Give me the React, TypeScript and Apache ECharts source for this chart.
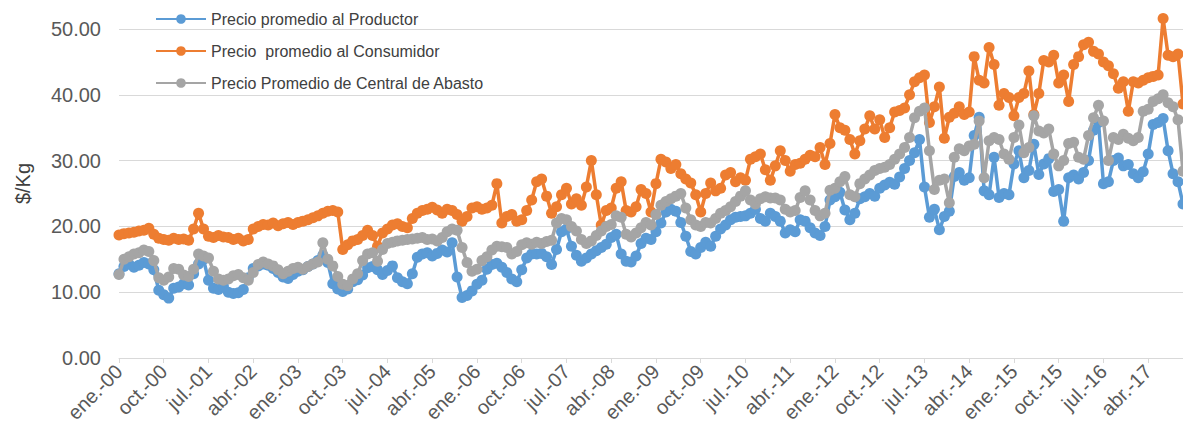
import React, { useEffect, useRef } from "react";
import * as echarts from "echarts";

// Monthly price series, January 2000 through November 2017 ($/Kg)
const MONTHS = ["ene.", "feb.", "mar.", "abr.", "may.", "jun.", "jul.", "ago.", "sep.", "oct.", "nov.", "dic."];
const YEARS = ["00", "01", "02", "03", "04", "05", "06", "07", "08", "09", "10", "11", "12", "13", "14", "15", "16", "17"];
const MONTHS_IN_LAST_YEAR = 11;

const categories: string[] = [];
YEARS.forEach((yy, k) => {
  const n = k === YEARS.length - 1 ? MONTHS_IN_LAST_YEAR : 12;
  for (let m = 0; m < n; m++) categories.push(`${MONTHS[m]}-${yy}`);
});

const SERIES_NAMES = [
  "Precio promedio al Productor",
  "Precio  promedio al Consumidor",
  "Precio Promedio de Central de Abasto",
];

const productor = [
  12.8, 13.9, 14.3, 13.8, 14.1, 14.5, 14.3, 13.4, 10.3, 9.6, 9.1, 10.6,
  10.8, 11.3, 11.1, 12.8, 14.3, 15.0, 11.8, 10.6, 10.4, 10.9, 10.0, 9.8,
  9.9, 10.4, 12.2, 13.6, 14.0, 14.3, 14.1, 13.6, 13.0, 12.3, 12.1, 12.7,
  13.2, 13.4, 13.9, 14.3, 14.8, 15.6, 14.5, 11.3, 10.5, 10.1, 10.5, 11.6,
  11.9, 12.6, 13.7, 13.9, 13.4, 12.7, 13.3, 14.0, 12.2, 11.6, 11.3, 12.8,
  15.3, 15.8, 16.0, 15.5, 15.9, 16.4, 16.1, 17.5, 12.3, 9.2, 9.5, 10.2,
  11.2, 11.8, 13.5, 14.2, 14.4, 13.8, 13.0, 12.0, 11.6, 13.4, 15.2, 15.8,
  15.8, 15.9, 15.4, 14.2, 16.5, 19.2, 19.6, 17.0, 15.6, 14.7, 15.2, 15.8,
  16.3, 16.8, 17.3, 18.3, 18.8, 15.8, 14.7, 14.6, 15.5, 17.4, 18.2, 18.0,
  19.2, 20.5, 22.2, 22.6, 22.3, 20.6, 18.5, 16.2, 15.8, 16.8, 17.6, 17.0,
  18.5, 19.6, 20.2, 21.0, 21.4, 21.5, 21.6, 22.0, 22.6, 21.2, 20.8, 22.0,
  21.5, 20.8, 19.0, 19.5, 19.2, 21.0, 20.8, 19.8, 19.0, 18.6, 20.0, 24.0,
  24.5, 25.2, 22.5, 21.0, 22.0, 24.2, 24.5, 25.0, 24.6, 25.8, 26.3, 26.7,
  26.4, 27.5, 28.8, 30.0, 31.2, 33.2, 26.0, 21.4, 22.6, 19.5, 21.5, 22.3,
  27.6, 28.2, 27.0, 27.4, 33.8, 36.6, 25.4, 24.8, 30.5, 24.4, 25.0, 24.8,
  29.5, 31.5, 27.4, 28.5, 32.5, 27.9, 29.5, 30.3, 25.3, 25.6, 20.8, 27.4,
  27.8, 27.2, 28.2, 30.0, 34.6, 35.8, 26.5, 26.8, 30.0, 30.4, 29.2, 29.4,
  28.0, 27.4, 28.3, 31.0, 35.5, 35.8, 36.4, 31.5, 28.0, 26.8, 23.4,
];

const consumidor = [
  18.7, 18.9, 19.0, 19.1, 19.3, 19.4, 19.7, 18.8, 18.2, 18.0, 17.9, 18.2,
  18.0, 18.1, 17.9, 19.6, 22.0, 19.6, 18.5, 18.3, 18.6, 18.4, 18.3, 18.0,
  18.2, 17.8, 18.0, 19.6, 20.0, 20.3, 20.2, 20.5, 20.1, 20.4, 20.6, 20.3,
  20.6, 20.8, 21.0, 21.3, 21.6, 22.0, 22.3, 22.4, 22.2, 16.5, 17.2, 17.8,
  18.0, 18.6, 19.4, 18.6, 17.0, 19.0, 19.6, 20.2, 20.4, 20.0, 19.8, 21.2,
  22.0, 22.4, 22.6, 22.9, 22.5, 22.0, 22.6, 22.4, 21.8, 20.8, 21.5, 22.8,
  23.0, 22.6, 22.8, 23.2, 26.5, 20.5, 21.5, 21.8, 20.8, 21.0, 22.4, 24.0,
  26.8, 27.2, 24.6, 22.0, 23.0, 24.8, 25.8, 23.4, 24.2, 23.2, 26.0, 30.0,
  24.8, 20.2, 22.4, 22.8, 25.8, 26.8, 22.4, 22.2, 23.0, 25.6, 25.0, 22.2,
  26.5, 30.2, 29.8, 28.8, 29.4, 28.0, 27.2, 26.6, 24.8, 22.2, 25.0, 26.6,
  25.4, 25.8, 27.8, 28.2, 26.8, 27.4, 27.0, 30.2, 30.6, 31.0, 28.6, 27.0,
  29.2, 31.5, 30.0, 28.4, 29.4, 29.6, 30.2, 30.8, 30.6, 32.0, 29.4, 32.6,
  37.0, 35.0, 34.6, 33.2, 31.0, 33.0, 34.8, 36.8, 34.8, 36.2, 33.5, 35.0,
  37.4, 37.6, 38.0, 40.0, 42.0, 42.6, 43.0, 35.8, 38.2, 41.2, 33.4, 36.6,
  37.2, 38.2, 37.0, 37.4, 45.8, 42.2, 41.8, 47.2, 44.6, 38.4, 40.2, 39.6,
  36.8, 39.6, 40.2, 43.6, 37.0, 40.2, 45.2, 45.0, 46.0, 41.8, 43.0, 39.0,
  44.6, 45.8, 47.6, 48.0, 46.6, 46.2, 45.0, 44.4, 43.2, 41.0, 42.0, 37.5,
  42.0, 41.8, 42.2, 42.6, 42.8, 43.0, 51.6, 46.0, 45.8, 46.2, 38.6,
];

const centralAbasto = [
  12.7, 15.0, 15.4, 15.8, 16.0, 16.4, 16.2, 14.8, 12.2, 11.8, 12.3, 13.6,
  13.5, 12.6, 12.4, 13.5, 15.8, 15.5, 15.2, 13.2, 12.0, 11.8, 12.0, 12.5,
  12.7, 12.2, 11.8, 13.0, 14.2, 14.6, 14.3, 14.0, 13.4, 12.8, 13.2, 13.6,
  13.8, 13.5, 13.9, 14.3, 14.6, 17.5, 15.0, 14.0, 12.4, 11.2, 11.0, 12.0,
  12.8, 14.8, 15.8, 16.0, 14.7, 16.5, 17.4, 17.6, 17.8, 17.9, 18.0, 18.1,
  18.2, 18.3, 18.0, 18.1, 17.8, 18.3, 19.2, 19.6, 19.4, 16.8, 14.5, 13.2,
  13.5, 14.8, 15.4, 16.4, 17.0, 16.9, 16.8, 15.8, 16.2, 17.2, 17.5, 17.3,
  17.6, 17.4, 17.7, 17.9, 20.5, 21.2, 21.0, 20.0, 19.3, 18.0, 17.4, 17.8,
  18.6, 19.3, 20.0, 20.3, 21.6, 21.4, 18.8, 18.4, 19.0, 19.8, 20.6, 20.2,
  21.8, 23.2, 23.8, 24.2, 24.6, 25.0, 22.8, 21.0, 20.2, 20.0, 20.6, 20.5,
  21.2, 22.0, 22.4, 23.0, 23.8, 24.6, 25.4, 24.0, 23.4, 24.2, 24.5, 24.3,
  24.3, 24.0, 22.6, 22.2, 22.4, 24.4, 25.4, 24.0, 22.4, 21.6, 22.0, 25.5,
  25.8, 26.8, 27.6, 24.8, 24.5, 26.5, 27.2, 27.8, 28.5, 28.8, 29.0, 29.4,
  30.2, 31.0, 32.0, 33.5, 36.5, 37.5, 38.0, 31.5, 25.6, 27.0, 27.2, 23.6,
  30.5, 31.8, 31.5, 32.2, 32.5, 36.0, 27.4, 33.0, 33.5, 33.2, 31.0, 30.2,
  33.5, 35.4, 31.2, 32.0, 36.8, 34.5, 34.2, 34.8, 31.0, 29.2, 30.0, 32.6,
  32.8, 30.5, 30.2, 33.8, 36.5, 38.4, 36.0, 30.0, 33.5, 33.2, 34.0, 33.4,
  33.0, 33.5, 37.5, 37.8, 39.0, 39.4, 40.0, 38.8, 38.2, 36.2, 28.4,
];

const COLORS = ["#5B9BD5", "#ED7D31", "#A5A5A5"];
const FONT = "'Liberation Sans', Arial, sans-serif";

function lineSeries(name: string, data: number[], color: string, z: number) {
  return {
    name,
    type: "line",
    data,
    symbol: "circle",
    symbolSize: 11,
    showAllSymbol: true,
    clip: false,
    z,
    lineStyle: { width: 3.5, color },
    itemStyle: { color, borderWidth: 0 },
    emphasis: { disabled: true },
  };
}

export default function App() {
  const ref = useRef<HTMLDivElement>(null);

  useEffect(() => {
    if (!ref.current) return;
    const chart = echarts.init(ref.current, undefined, { renderer: "svg" });
    chart.setOption({
      animation: false,
      backgroundColor: "#ffffff",
      textStyle: { fontFamily: FONT },
      grid: { left: 119, right: 0, top: 29, bottom: 76 },
      legend: {
        orient: "vertical",
        left: 150,
        top: 6,
        itemWidth: 50,
        itemHeight: 12,
        itemGap: 16,
        textStyle: { fontSize: 16, color: "#404040", fontFamily: FONT },
        data: SERIES_NAMES,
      },
      xAxis: {
        type: "category",
        data: categories,
        boundaryGap: false,
        axisLine: { lineStyle: { color: "#D9D9D9", width: 1 } },
        axisTick: { interval: 8, length: 5, lineStyle: { color: "#D9D9D9" } },
        axisLabel: {
          interval: 8,
          rotate: 45,
          fontSize: 20,
          color: "#595959",
          margin: 10,
          fontFamily: FONT,
        },
        splitLine: { show: false },
      },
      yAxis: {
        type: "value",
        min: 0,
        max: 50,
        interval: 10,
        name: "$/Kg",
        nameLocation: "middle",
        nameGap: 86,
        nameRotate: 90,
        nameTextStyle: {
          fontSize: 20,
          color: "#404040",
          fontFamily: FONT,
          padding: [0, 0, 0, 20],
        },
        axisLabel: {
          formatter: (v: number) => v.toFixed(2),
          fontSize: 20,
          color: "#595959",
          margin: 18,
          fontFamily: FONT,
        },
        axisLine: { show: false },
        axisTick: { show: false },
        splitLine: { lineStyle: { color: "#D9D9D9", width: 1 } },
      },
      series: [
        lineSeries(SERIES_NAMES[0], productor, COLORS[0], 2),
        lineSeries(SERIES_NAMES[1], consumidor, COLORS[1], 3),
        lineSeries(SERIES_NAMES[2], centralAbasto, COLORS[2], 4),
      ],
    });
    return () => chart.dispose();
  }, []);

  return (
    <div
      ref={ref}
      style={{ position: "absolute", left: 0, top: 0, width: 1183, height: 434 }}
    />
  );
}
